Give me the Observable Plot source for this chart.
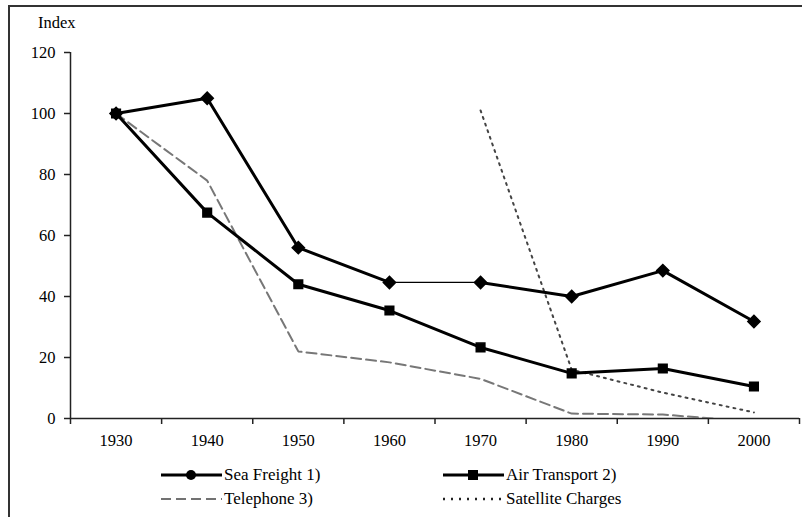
<!DOCTYPE html>
<html><head><meta charset="utf-8">
<script src="https://cdn.jsdelivr.net/npm/d3@7"></script>
<script src="https://cdn.jsdelivr.net/npm/@observablehq/plot@0.6"></script>
<style>
body{margin:0;background:#fff;font-family:"Liberation Serif","Times New Roman",Tinos,"DejaVu Serif",serif;}
#wrap{position:relative;width:802px;height:517px;overflow:hidden;}
#frame{position:absolute;left:8px;top:5px;width:800px;height:520px;border-top:2px solid #333;border-left:2px solid #333;}
#ylab{position:absolute;left:38px;top:13px;font-size:16.5px;}
#chart{position:absolute;left:0;top:0;}
#chart svg text{font-family:"Liberation Serif","Times New Roman",Tinos,"DejaVu Serif",serif !important;font-size:16.5px !important;fill:#000;}
.leg{position:absolute;font-size:17px;display:flex;align-items:center;white-space:nowrap;}
.leg svg{display:block;}
</style></head>
<body>
<div id="wrap">
<div id="frame"></div>
<div id="chart"></div>
<div id="ylab">Index</div>
<div id="legend"></div>
</div>
<script>
const years = [1930, 1940, 1950, 1960, 1970, 1980, 1990, 2000];
const seaFreight = [100, 105, 56, 44.6, 44.6, 40, 48.5, 31.8];
const airTransport = [100, 67.5, 44, 35.4, 23.3, 14.8, 16.4, 10.5];
const telephone = [100, 78, 22, 18.4, 13, 1.6, 1.3, -1.1];
const satelliteYears = [1970, 1980, 1990, 2000];
const satellite = [101, 16, 8.5, 2];
const yTicks = [0, 20, 40, 60, 80, 100, 120];
const xEdges = [1925, 1935, 1945, 1955, 1965, 1975, 1985, 1995, 2005];
const legendLabels = ["Sea Freight 1)", "Air Transport 2)", "Telephone 3)", "Satellite Charges"];

const FONT = '"Liberation Serif", "Times New Roman", Tinos, "DejaVu Serif", serif';
const sea = years.map((y, i) => ({year: y, v: seaFreight[i]}));
const air = years.map((y, i) => ({year: y, v: airTransport[i]}));
const tel = years.map((y, i) => ({year: y, v: telephone[i]}));
const sat = satelliteYears.map((y, i) => ({year: y, v: satellite[i]}));
const seaA = sea.filter(d => d.year <= 1960);
const seaB = sea.filter(d => d.year >= 1970);

const plot = Plot.plot({
  width: 802, height: 460,
  marginLeft: 70, marginRight: 3, marginTop: 52, marginBottom: 42,
  style: {fontFamily: FONT, fontSize: "16px", color: "black", background: "transparent"},
  x: {domain: [1925, 2005]},
  y: {domain: [0, 120]},
  marks: [
    Plot.axisY({ticks: yTicks, tickSize: 6, tickPadding: 9, label: null, stroke: "#222", strokeWidth: 1.5, fontSize: 16, fontFamily: FONT}),
    Plot.axisX({ticks: xEdges, tickSize: 6, tickFormat: () => "", label: null, stroke: "#222", strokeWidth: 1.5}),
    Plot.axisX({ticks: years, tickSize: 0, tickPadding: 16, tickFormat: d => String(d), label: null, fontSize: 16.5, fontFamily: FONT}),
    Plot.ruleX([1925], {y1: 0, y2: 120, stroke: "#222", strokeWidth: 1.5}),
    Plot.ruleY([0], {stroke: "#222", strokeWidth: 1.5}),
    Plot.line(tel, {x: "year", y: "v", stroke: "#777", strokeWidth: 2, strokeDasharray: "10,5", clip: true}),
    Plot.line(sat, {x: "year", y: "v", stroke: "#444", strokeWidth: 2, strokeDasharray: "2,5", clip: true}),
    Plot.line(sea, {x: "year", y: "v", stroke: "black", strokeWidth: 1.2}),
    Plot.line(seaA, {x: "year", y: "v", stroke: "black", strokeWidth: 3}),
    Plot.line(seaB, {x: "year", y: "v", stroke: "black", strokeWidth: 3}),
    Plot.line(air, {x: "year", y: "v", stroke: "black", strokeWidth: 3}),
    Plot.dot(sea, {x: "year", y: "v", symbol: "diamond2", r: 5.5, fill: "black", stroke: "black"}),
    Plot.dot(air, {x: "year", y: "v", symbol: "square2", r: 5.5, fill: "black", stroke: "black"})
  ]
});
document.getElementById("chart").appendChild(plot);

// legend
const leg = document.getElementById("legend");
const items = [
  {label: legendLabels[0], left: 160, top: 465, dash: null, sw: 3, marker: "circle", stroke: "black"},
  {label: legendLabels[1], left: 442, top: 465, dash: null, sw: 3, marker: "square", stroke: "black"},
  {label: legendLabels[2], left: 160, top: 489, dash: "10,5", sw: 1.5, marker: null, stroke: "#444"},
  {label: legendLabels[3], left: 442, top: 489, dash: "2,6", sw: 2.5, marker: null, stroke: "#222"}
];
for (const it of items) {
  const div = document.createElement("div");
  div.className = "leg";
  div.style.left = it.left + "px";
  div.style.top = it.top + "px";
  const w = 62;
  let m = "";
  if (it.marker === "circle") m = `<circle cx="${w/2}" cy="10" r="5" fill="black"/>`;
  if (it.marker === "square") m = `<rect x="${w/2-5}" y="5" width="10" height="10" fill="black"/>`;
  div.innerHTML = `<svg width="${w}" height="20"><line x1="1" x2="${w}" y1="10" y2="10" stroke="${it.stroke}" stroke-width="${it.sw}" ${it.dash ? `stroke-dasharray="${it.dash}"` : ""}/>${m}</svg><span style="margin-left:2px">${it.label}</span>`;
  leg.appendChild(div);
}
</script>
</body></html>
